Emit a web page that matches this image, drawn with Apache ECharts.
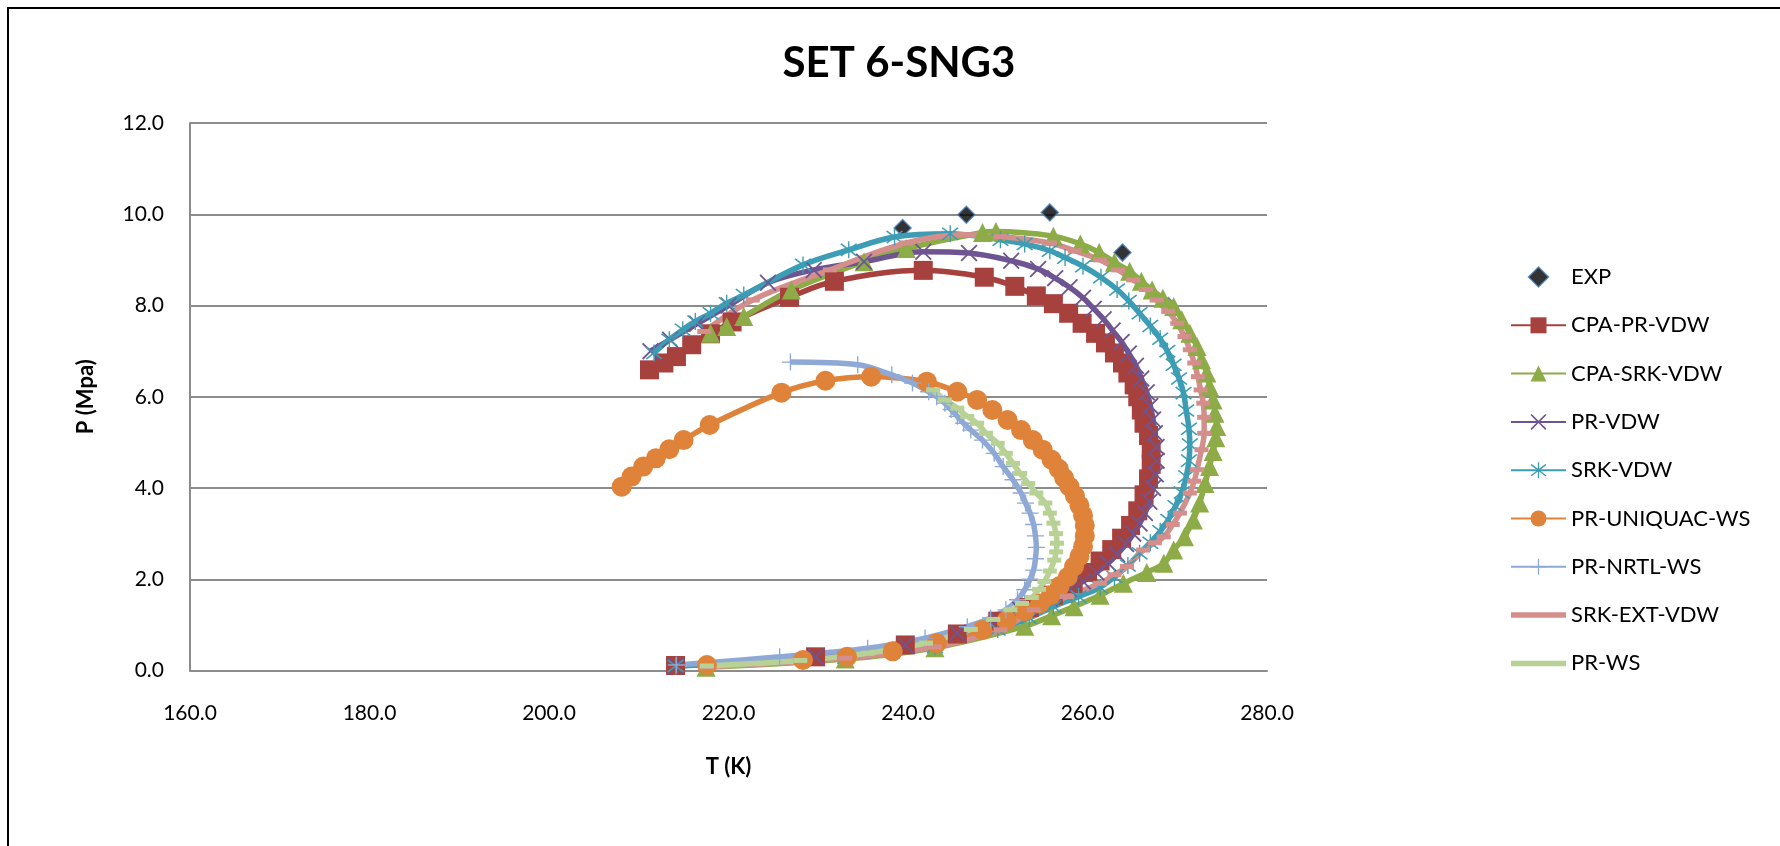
<!DOCTYPE html>
<html>
<head>
<meta charset="utf-8">
<script src="https://cdn.jsdelivr.net/npm/echarts@6/dist/echarts.min.js"></script>
<style>
html,body{margin:0;padding:0;background:#fff;}
#c{width:1780px;height:846px;}
</style>
</head>
<body>
<div id="c"></div>
<script>
// ---------- DATA (T in K, P in MPa) ----------
const TITLE = 'SET 6-SNG3';
const X_TICKS = [160, 180, 200, 220, 240, 260, 280];
const Y_TICKS = [0, 2, 4, 6, 8, 10, 12];
const SERIES_NAMES = ['EXP','CPA-PR-VDW','CPA-SRK-VDW','PR-VDW','SRK-VDW','PR-UNIQUAC-WS','PR-NRTL-WS','SRK-EXT-VDW','PR-WS'];

const EXP = [[239.4,9.70],[246.5,9.99],[255.8,10.04],[263.9,9.16],[269.0,7.99]];

const CPA_PR_VDW = [[214.1,0.11],[229.7,0.30],[239.7,0.56],[245.5,0.80],[250.0,1.08],[253.5,1.38],[256.2,1.65],[258.4,1.90],[260.0,2.15],[261.4,2.40],[262.7,2.65],[263.8,2.90],[264.8,3.18],[265.6,3.50],[266.3,3.85],[266.8,4.20],[267.1,4.52],[267.1,4.85],[266.8,5.15],[266.3,5.42],[266.0,5.71],[265.6,6.00],[265.2,6.26],[264.5,6.52],[263.9,6.74],[263.0,6.96],[262.0,7.18],[260.9,7.39],[259.4,7.61],[257.9,7.83],[256.2,8.04],[254.3,8.21],[251.9,8.42],[248.5,8.62],[241.7,8.77],[231.8,8.53],[226.8,8.18],[220.4,7.64],[218.0,7.38],[215.9,7.14],[214.2,6.88],[212.8,6.74],[211.2,6.59]];

const CPA_SRK_VDW = [[217.5,0.07],[233.0,0.25],[243.0,0.50],[253.0,0.97],[256.0,1.20],[258.5,1.40],[261.4,1.65],[264.0,1.91],[266.6,2.15],[268.5,2.35],[269.6,2.64],[270.8,2.93],[271.8,3.30],[272.5,3.67],[273.1,4.10],[273.6,4.47],[274.0,4.80],[274.3,5.10],[274.4,5.35],[274.2,5.64],[274.0,5.93],[273.6,6.22],[273.3,6.52],[272.7,6.81],[272.2,7.10],[271.4,7.39],[270.5,7.69],[269.6,7.98],[268.4,8.16],[267.2,8.34],[266.0,8.53],[264.7,8.75],[263.0,8.95],[261.3,9.16],[259.2,9.35],[256.2,9.52],[249.8,9.62],[248.3,9.60],[239.8,9.25],[235.1,8.96],[227.0,8.34],[221.7,7.76],[219.8,7.54],[218.0,7.39]];

const PR_VDW = [[214.1,0.10],[229.7,0.30],[239.7,0.56],[245.5,0.82],[250.0,1.12],[252.5,1.33],[255.8,1.58],[258.0,1.78],[259.5,1.95],[261.0,2.15],[262.3,2.35],[263.3,2.55],[264.3,2.77],[265.1,3.00],[265.8,3.22],[266.4,3.45],[266.9,3.70],[267.3,4.00],[267.6,4.30],[267.7,4.60],[267.7,4.90],[267.5,5.20],[267.3,5.50],[267.0,5.80],[266.6,6.10],[266.0,6.40],[265.4,6.68],[264.6,6.95],[263.8,7.20],[262.8,7.45],[261.8,7.70],[260.7,7.93],[259.5,8.17],[258.0,8.40],[256.4,8.60],[254.5,8.80],[251.5,8.98],[246.8,9.15],[241.7,9.18],[235.1,8.96],[229.5,8.78],[224.4,8.50],[220.0,8.00],[216.5,7.60],[213.5,7.25],[211.3,7.00]];

const SRK_VDW = [[214.1,0.10],[233.0,0.28],[243.0,0.52],[250.0,0.90],[253.5,1.15],[256.2,1.40],[259.0,1.62],[261.4,1.82],[263.0,2.05],[264.5,2.30],[265.8,2.57],[267.0,2.80],[268.1,3.05],[269.0,3.30],[269.8,3.60],[270.5,3.90],[271.0,4.25],[271.3,4.60],[271.4,4.95],[271.3,5.30],[271.0,5.70],[270.7,6.08],[270.2,6.40],[269.6,6.70],[268.9,7.00],[268.1,7.27],[267.0,7.55],[265.8,7.83],[264.6,8.10],[263.3,8.35],[261.5,8.62],[259.5,8.86],[257.5,9.05],[255.8,9.20],[253.0,9.35],[250.3,9.44],[244.7,9.57],[238.5,9.50],[233.4,9.22],[228.3,8.89],[221.7,8.23],[219.8,8.05],[218.0,7.83],[216.3,7.65],[214.9,7.47],[213.4,7.25],[211.7,6.96]];

const PR_UNIQUAC_WS = [[217.6,0.12],[228.3,0.23],[233.2,0.30],[238.3,0.42],[243.2,0.60],[248.3,0.89],[251.0,1.10],[253.0,1.30],[254.7,1.47],[255.9,1.65],[256.9,1.85],[257.8,2.05],[258.5,2.28],[259.1,2.50],[259.5,2.72],[259.7,2.95],[259.7,3.18],[259.5,3.40],[259.1,3.62],[258.6,3.83],[258.0,4.03],[257.4,4.22],[256.8,4.42],[256.0,4.62],[255.0,4.84],[253.9,5.05],[252.6,5.27],[251.1,5.49],[249.4,5.71],[247.7,5.93],[245.5,6.11],[242.1,6.33],[235.9,6.44],[230.8,6.35],[225.9,6.09],[217.9,5.38],[215.0,5.05],[213.4,4.85],[211.9,4.65],[210.5,4.47],[209.2,4.25],[208.1,4.03]];

const PR_NRTL_WS = [[214.2,0.12],[225.7,0.30],[235.5,0.49],[241.9,0.71],[246.6,0.96],[249.2,1.15],[250.9,1.33],[252.2,1.55],[253.0,1.77],[253.6,2.00],[254.0,2.20],[254.2,2.45],[254.3,2.70],[254.2,2.95],[254.0,3.20],[253.6,3.45],[253.1,3.67],[252.6,3.89],[251.7,4.18],[250.6,4.47],[249.6,4.76],[248.3,5.05],[247.0,5.27],[246.2,5.42],[245.5,5.57],[244.8,5.72],[244.1,5.86],[243.2,6.00],[242.3,6.11],[240.5,6.30],[238.2,6.48],[234.4,6.70],[226.9,6.76]];

const SRK_EXT_VDW = [[217.5,0.08],[233.0,0.27],[243.0,0.52],[250.3,0.89],[254.0,1.33],[257.7,1.62],[261.4,1.91],[263.0,2.10],[264.4,2.28],[266.2,2.64],[267.5,2.80],[268.5,2.93],[269.5,3.20],[270.3,3.45],[271.4,3.89],[271.9,4.15],[272.2,4.40],[272.7,4.84],[273.0,5.20],[273.0,5.55],[272.9,5.86],[272.6,6.15],[272.3,6.44],[271.9,6.74],[271.4,7.03],[270.8,7.32],[270.0,7.61],[269.0,7.87],[267.7,8.12],[266.5,8.35],[265.1,8.56],[263.4,8.78],[261.4,9.00],[258.6,9.20],[255.8,9.37],[250.3,9.51],[246.2,9.55],[239.8,9.37],[231.3,8.78],[222.7,8.12],[217.3,7.43]];

const PR_WS = [[217.6,0.10],[228.0,0.22],[235.5,0.38],[242.0,0.60],[247.0,0.90],[249.5,1.12],[251.4,1.33],[252.7,1.47],[253.8,1.60],[254.6,1.78],[255.2,1.95],[255.8,2.18],[256.3,2.42],[256.5,2.60],[256.6,2.79],[256.5,3.00],[256.2,3.23],[255.8,3.45],[255.3,3.67],[254.3,3.89],[253.4,4.10],[252.5,4.32],[251.7,4.54],[250.9,4.76],[250.0,4.98],[248.7,5.20],[247.7,5.42],[246.6,5.57],[245.5,5.75],[244.1,5.93],[242.8,6.15]];

// ---------- STYLE ----------
const FONT = 'Lato, "Open Sans", sans-serif';
const C = {
  red:'#A7413E', green:'#8DAC48', purple:'#6E5592', teal:'#3C9DB5',
  orange:'#DF833A', nrtl:'#8EA9D5', pink:'#D48E8B', prws:'#B8D295'
};
const X_SYM = 'path://M1.5,0 L10,8.5 L18.5,0 L20,1.5 L11.5,10 L20,18.5 L18.5,20 L10,11.5 L1.5,20 L0,18.5 L8.5,10 L0,1.5 Z';
const AST_SYM = 'path://M1.5,0 L10,8.5 L18.5,0 L20,1.5 L11.5,10 L20,18.5 L18.5,20 L10,11.5 L1.5,20 L0,18.5 L8.5,10 L0,1.5 Z M9.2,-3 L10.8,-3 L10.8,23 L9.2,23 Z';
const PLUS_SYM = 'path://M9.2,0 L10.8,0 L10.8,9.2 L20,9.2 L20,10.8 L10.8,10.8 L10.8,20 L9.2,20 L9.2,10.8 L0,10.8 L0,9.2 L9.2,9.2 Z';
const DIAMOND_ICON = 'path://M10,0 L20,10 L10,20 L0,10 Z';
const BAR_ICON = 'path://M0,0 L55,0 L55,5.5 L0,5.5 Z';

function lineSeries(name, data, color, symbol, size, lw) {
  return {
    name, type:'line', data, smooth:0.35, symbol, symbolSize:size,
    showSymbol:true, clip:false,
    lineStyle:{color, width:lw}, itemStyle:{color, borderWidth:0},
    emphasis:{disabled:true}, animation:false
  };
}

const chart = echarts.init(document.getElementById('c'), null, {renderer:'canvas'});
chart.setOption({
  backgroundColor:'#fff',
  animation:false,
  title:{
    text:TITLE, left:894, top:37, textAlign:'center',
    textStyle:{fontFamily:FONT, fontWeight:'bold', fontSize:42, color:'#000'}
  },
  graphic:[
    {type:'rect', shape:{x:8, y:8, width:1800, height:900}, style:{fill:'none', stroke:'#000', lineWidth:2}, silent:true, z:100}
  ],
  grid:{left:190, right:513, top:123, bottom:175.5, containLabel:false},
  xAxis:{
    type:'value', min:X_TICKS[0], max:X_TICKS[X_TICKS.length-1], interval:20,
    name:'T (K)', nameLocation:'middle', nameGap:85,
    nameTextStyle:{fontFamily:FONT, fontWeight:'bold', fontSize:22, color:'#000'},
    axisLine:{show:true, lineStyle:{color:'#8C8C8C', width:2}},
    axisTick:{show:false},
    splitLine:{show:false},
    axisLabel:{fontFamily:FONT, fontSize:21, color:'#000', margin:32, formatter:v=>v.toFixed(1)}
  },
  yAxis:{
    type:'value', min:Y_TICKS[0], max:Y_TICKS[Y_TICKS.length-1], interval:2,
    name:'P (Mpa)', nameLocation:'middle', nameGap:93, nameRotate:90,
    nameTextStyle:{fontFamily:FONT, fontWeight:'bold', fontSize:22, color:'#000'},
    axisLine:{show:true, lineStyle:{color:'#8C8C8C', width:2}},
    axisTick:{show:false},
    splitLine:{show:true, lineStyle:{color:'#8C8C8C', width:2}},
    axisLabel:{fontFamily:FONT, fontSize:21, color:'#000', margin:26, formatter:v=>v.toFixed(1)}
  },
  legend:{
    orient:'vertical', left:1505, top:260,
    itemWidth:55, itemHeight:20, itemGap:24.3, symbolKeepAspect:true,
    textStyle:{fontFamily:FONT, fontSize:22, color:'#000', lineHeight:24},
    data:[
      {name:'EXP', icon:DIAMOND_ICON, itemStyle:{color:'#000', borderColor:'#4A7EBB', borderWidth:1.5}},
      'CPA-PR-VDW','CPA-SRK-VDW','PR-VDW','SRK-VDW','PR-UNIQUAC-WS','PR-NRTL-WS',
      {name:'SRK-EXT-VDW', icon:BAR_ICON},
      {name:'PR-WS', icon:BAR_ICON}
    ],
    selectedMode:false
  },
  series:[
    {
      name:'EXP', type:'scatter', data:EXP, symbol:'diamond', symbolSize:17,
      itemStyle:{color:'#000', borderColor:'#4A7EBB', borderWidth:1.5},
      emphasis:{disabled:true}, z:2
    },
    lineSeries('CPA-PR-VDW', CPA_PR_VDW, C.red, 'rect', 19, 5.5),
    lineSeries('CPA-SRK-VDW', CPA_SRK_VDW, C.green, 'triangle', 19, 5.5),
    lineSeries('PR-VDW', PR_VDW, C.purple, X_SYM, 17, 5.5),
    lineSeries('SRK-VDW', SRK_VDW, C.teal, AST_SYM, 17, 5.5),
    lineSeries('PR-UNIQUAC-WS', PR_UNIQUAC_WS, C.orange, 'circle', 20, 5.5),
    lineSeries('PR-NRTL-WS', PR_NRTL_WS, C.nrtl, PLUS_SYM, 17, 5.5),
    lineSeries('SRK-EXT-VDW', SRK_EXT_VDW, C.pink, 'rect', [14,5], 5.5),
    lineSeries('PR-WS', PR_WS, C.prws, 'rect', [14,5], 5.5)
  ]
});
</script>
</body>
</html>
